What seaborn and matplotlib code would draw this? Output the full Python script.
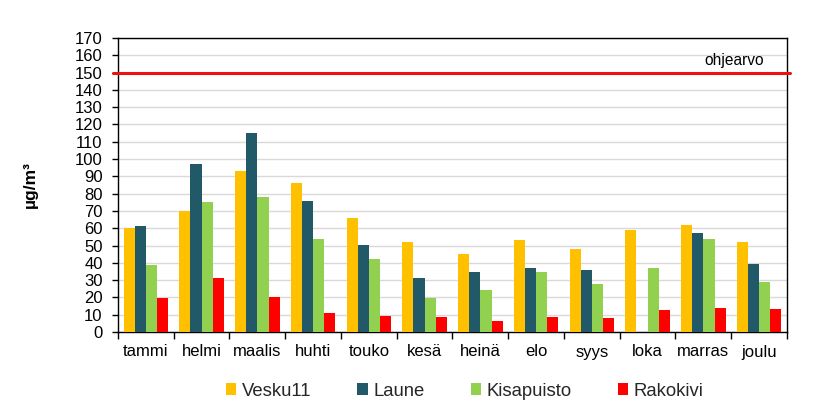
import matplotlib
matplotlib.use("Agg")
import matplotlib.pyplot as plt
from matplotlib.patches import Patch
import seaborn as sns
import pandas as pd
import numpy as np

months = ["tammi", "helmi", "maalis", "huhti", "touko", "kesä", "heinä", "elo", "syys", "loka", "marras", "joulu"]
series = ["Vesku11", "Laune", "Kisapuisto", "Rakokivi"]
vesku11 = [60, 70, 93, 86, 66, 52, 45, 53, 48, 59, 62, 52]
laune = [61.5, 97, 115, 76, 50.5, 31.5, 34.5, 37, 36, np.nan, 57, 39.5]
kisapuisto = [39, 75, 78, 54, 42.5, 19.5, 24.5, 34.5, 27.5, 37, 53.5, 29]
rakokivi = [19.5, 31.5, 20.5, 11, 9, 8.5, 6.5, 8.5, 8, 12.5, 14, 13.5]
colors = ["#FFC000", "#215968", "#92D050", "#FF0000"]
guide_value = 150
guide_label = "ohjearvo"

df = pd.DataFrame({
    "month": months * 4,
    "series": sum([[s] * 12 for s in series], []),
    "value": vesku11 + laune + kisapuisto + rakokivi,
})

sns.set_theme(style="white")
plt.rcParams["font.family"] = ["Liberation Sans", "DejaVu Sans"]

fig = plt.figure(figsize=(8.37, 4.2), dpi=100)
ax = fig.add_axes([118 / 837, 88 / 420, 669 / 837, 294 / 420])

sns.barplot(data=df, x="month", y="value", hue="series", order=months, hue_order=series,
            palette=colors, width=0.8, saturation=1, ax=ax, legend=False, zorder=3,
            linewidth=0, edgecolor="none")

ax.set_ylim(0, 170)
ax.set_xlim(-0.5, 11.5)
ax.set_yticks(range(0, 171, 10))
ax.yaxis.grid(True, color="#D9D9D9", linewidth=1, zorder=0)
ax.set_axisbelow(True)
for sp in ax.spines.values():
    sp.set_color("black")
    sp.set_linewidth(1)

ax.tick_params(axis="y", which="major", length=4, width=1, color="black", direction="out",
               labelsize=12, pad=7, left=True)
ax.tick_params(axis="x", which="major", length=0, labelsize=12, pad=9)
ax.set_xticks(np.arange(-0.5, 12, 1), minor=True)
ax.tick_params(axis="x", which="minor", length=5, width=1, color="black", direction="out", bottom=True)
for lab in ax.get_yticklabels() + ax.get_xticklabels():
    lab.set_color("black")

ax.set_xlabel("")
ax.set_ylabel("µg/m³", fontsize=12.5, fontweight="bold", color="black")
ax.yaxis.set_label_coords(-80 / 669, 0.5)

ax.axhline(guide_value, xmin=-0.008, xmax=1.005, color="#EE1111", linewidth=2.2, clip_on=False, zorder=4)
ax.text(10.55, guide_value + 2.5, guide_label, fontsize=11.2, color="black", ha="center", va="bottom")

handles = [Patch(facecolor=c, edgecolor="none", label=s) for s, c in zip(series, colors)]
fig.legend(handles=handles, loc="center", bbox_to_anchor=(0.555, 0.069), ncol=4, frameon=False,
           fontsize=13.3, handlelength=0.55, handleheight=0.55, handletextpad=0.3, columnspacing=2.5)

fig.savefig("out.png", dpi=100)
